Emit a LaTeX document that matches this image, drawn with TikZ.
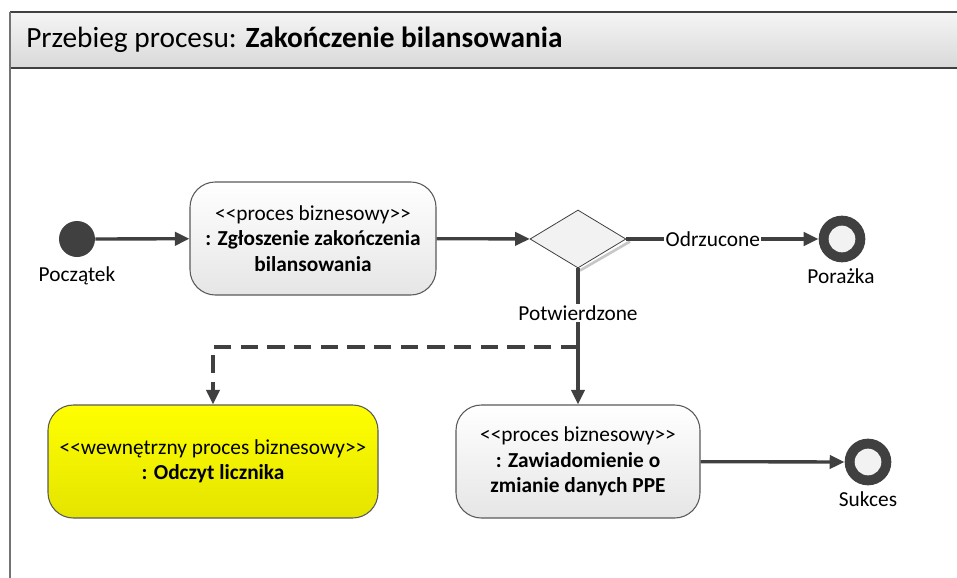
\documentclass[tikz,border=0pt]{standalone}
\usepackage{fontspec}
\setmainfont{Carlito}[Ligatures=TeXOff]
\usetikzlibrary{arrows.meta,shapes.geometric}
\definecolor{ink}{HTML}{404040}
\definecolor{boxline}{HTML}{5A5A5A}
\tikzset{
  conn/.style={draw=ink,line width=2.5pt,-{Triangle[length=11pt,width=10pt]}},
  procbox/.style={rectangle,rounded corners=19pt,draw=boxline,line width=0.8pt,
    top color=white,bottom color=black!10,minimum width=184.5pt,minimum height=84.75pt,
    align=center,font=\fontsize{16}{19}\selectfont},
  yellowbox/.style={procbox,top color=yellow,bottom color={rgb,255:red,228;green,228;blue,0},minimum width=247.5pt},
  endring/.style={circle,fill=ink,minimum size=35pt,inner sep=0pt},
  ringhole/.style={circle,fill=black!5,minimum size=20pt,inner sep=0pt},
  startdot/.style={circle,fill=ink,minimum size=27pt,inner sep=0pt},
  lbl/.style={font=\fontsize{16}{19}\selectfont,inner sep=2pt},
  onlbl/.style={lbl,fill=white,inner sep=1pt}
}
\begin{document}
\begin{tikzpicture}[x=0.75pt,y=-0.75pt]
\useasboundingbox (0,0) rectangle (957,578);
\clip (0,0) rectangle (957,578);
% frame
\fill[white] (0,0) rectangle (957,578);
\shade[top color=black!4,bottom color=black!15] (10,12) rectangle (970,68);
\draw[draw=ink,line width=1pt] (10,12) -- (970,12) (10,68) -- (970,68);
\draw[draw=black!55,line width=1.2pt] (10,12) -- (10,590);
\node[anchor=west,font=\fontsize{22}{26}\selectfont,inner sep=0pt] (title) at (26,40)
  {Przebieg procesu: \textbf{Zakończenie bilansowania}};
% nodes
\node[startdot] (start) at (77,239) {};
\node[lbl] (startlbl) at (77,276) {Początek};
\node[procbox] (b1) at (313,238.5) {<<proces biznesowy>>\\\textbf{: Zgłoszenie zakończenia}\\\textbf{bilansowania}};
\draw[black!22,line width=2pt] (630,241.5) -- (580,270.5);
\node[diamond,draw=ink,line width=0.6pt,fill=black!5,minimum width=72pt,minimum height=43.5pt,inner sep=0pt] (dec) at (578,239) {};
\node[endring] (fail) at (842,239) {};
\node[ringhole] (failhole) at (fail.center) {};
\node[lbl] (faillbl) at (841,276) {Porażka};
\node[yellowbox] (b2) at (213,461.5) {<<wewnętrzny proces biznesowy>>\\\textbf{: Odczyt licznika}};
\node[procbox,minimum width=183pt] (b3) at (578,461.5) {<<proces biznesowy>>\\\textbf{: Zawiadomienie o}\\\textbf{zmianie danych PPE}};
\node[endring] (succ) at (868,462) {};
\node[ringhole] (succhole) at (succ.center) {};
\node[lbl] (succlbl) at (868,499) {Sukces};
% connectors
\draw[conn] (start) -- (b1);
\draw[conn] (b1) -- (dec);
\draw[conn] (dec) -- node[onlbl,pos=0.45] {Odrzucone} (fail);
\draw[conn] (dec) -- node[onlbl,pos=0.33] {Potwierdzone} (b3);
\coordinate (split) at (578,347);
\draw[conn,dash pattern=on 13pt off 7pt] (split) -| (b2);
\draw[conn] (b3) -- (succ);
\end{tikzpicture}
\end{document}
